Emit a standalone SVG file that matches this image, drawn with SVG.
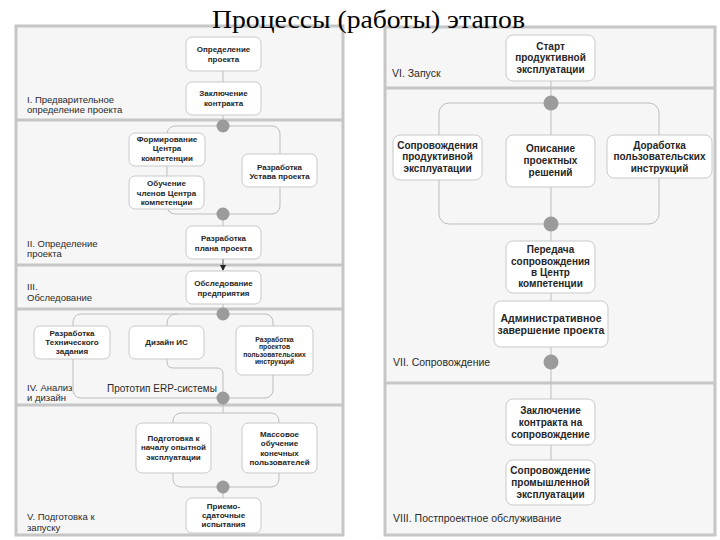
<svg xmlns="http://www.w3.org/2000/svg" width="720" height="540" viewBox="0 0 720 540">
<defs>
<style>
.lane{fill:#f6f6f6;stroke:#c6c6c6;stroke-width:3}
.sep{stroke:#c6c6c6;stroke-width:3}
.box{fill:#ffffff;stroke:#c9c9c9;stroke-width:1}
.ln{fill:none;stroke:#bdbdbd;stroke-width:1}
.dot{fill:#9b9b9b}
.t{font-family:"Liberation Sans",Arial,sans-serif;font-weight:bold;fill:#262626;text-anchor:middle}
.s{font-size:8px}
.xs{font-size:6.8px}
.m{font-size:10px}
.lab{font-family:"Liberation Sans",Arial,sans-serif;fill:#2a2a2a;font-size:9.5px}
.labr{font-family:"Liberation Sans",Arial,sans-serif;fill:#2a2a2a;font-size:10.5px}
.title{font-family:"Liberation Serif","Times New Roman",serif;font-size:26px;fill:#000}
</style>
<marker id="arr" markerWidth="6" markerHeight="6" refX="5" refY="3" orient="auto" markerUnits="userSpaceOnUse">
<path d="M0,0 L6,3 L0,6 Z" fill="#222"/>
</marker>
</defs>
<rect width="720" height="540" fill="#ffffff"/>

<g id="lanes">
<rect class="lane" x="16" y="26" width="327" height="509"/>
<line class="sep" x1="16" y1="120" x2="343" y2="120"/>
<line class="sep" x1="16" y1="265" x2="343" y2="265"/>
<line class="sep" x1="16" y1="309" x2="343" y2="309"/>
<line class="sep" x1="16" y1="405" x2="343" y2="405"/>
<rect class="lane" x="385" y="27" width="330" height="508"/>
<line class="sep" x1="385" y1="88" x2="715" y2="88"/>
<line class="sep" x1="385" y1="383" x2="715" y2="383"/>
</g>

<g id="lane-labels">
<text class="lab" x="27" y="103">I. Предварительное</text>
<text class="lab" x="27" y="113">определение проекта</text>
<text class="lab" x="27" y="247">II. Определение</text>
<text class="lab" x="27" y="257">проекта</text>
<text class="lab" x="27" y="290">III.</text>
<text class="lab" x="27" y="301">Обследование</text>
<text class="lab" x="27" y="391">IV. Анализ</text>
<text class="lab" x="27" y="401">и дизайн</text>
<text class="lab" x="27" y="520">V. Подготовка к</text>
<text class="lab" x="27" y="531">запуску</text>
<text class="labr" x="392" y="77">VI. Запуск</text>
<text class="labr" x="393" y="366">VII. Сопровождение</text>
<text class="labr" x="393" y="522">VIII. Постпроектное обслуживание</text>
<text class="lab" x="107" y="392" style="font-size:10px">Прототип ERP-системы</text>
</g>

<g id="connectors">
<line class="ln" x1="223" y1="71" x2="223" y2="82"/>
<line class="ln" x1="223" y1="115" x2="223" y2="126"/>
<rect class="ln" x="167" y="126" width="113" height="88" rx="8"/>
<line class="ln" x1="223" y1="214" x2="223" y2="226"/>
<line x1="223" y1="259" x2="223" y2="270" stroke="#555" stroke-width="1" marker-end="url(#arr)"/>
<line class="ln" x1="223" y1="304" x2="223" y2="314"/>
<rect class="ln" x="73" y="314" width="200" height="84" rx="8"/>
<path class="ln" d="M177,314 Q167,314 167,324 L167,362 Q167,368 173,368 L217,368 Q223,368 223,374 L223,398"/>
<line class="ln" x1="223" y1="398" x2="223" y2="413"/>
<rect class="ln" x="173" y="413" width="106" height="74" rx="8"/>
<line class="ln" x1="223" y1="487" x2="223" y2="498"/>
<line class="ln" x1="551" y1="81" x2="551" y2="505"/>
<rect class="ln" x="439" y="103" width="220" height="121" rx="10"/>
</g>

<g id="n-opredelenie"><rect class="box" x="186" y="37" width="75" height="34" rx="6"/>
<text class="t s" x="223.5" y="52">Определение</text><text class="t s" x="223.5" y="62">проекта</text></g>
<g id="n-zakl-kontrakta"><rect class="box" x="186" y="82" width="75" height="33" rx="6"/>
<text class="t s" x="223.5" y="96">Заключение</text><text class="t s" x="223.5" y="106">контракта</text></g>
<g id="n-formirovanie"><rect class="box" x="129" y="133" width="76" height="33" rx="6"/>
<text class="t s" x="167" y="142">Формирование</text><text class="t s" x="167" y="151">Центра</text><text class="t s" x="167" y="161">компетенции</text></g>
<g id="n-obuchenie"><rect class="box" x="129" y="176" width="75" height="33" rx="6"/>
<text class="t s" x="166.5" y="186">Обучение</text><text class="t s" x="166.5" y="196">членов Центра</text><text class="t s" x="166.5" y="205">компетенции</text></g>
<g id="n-ustav"><rect class="box" x="242" y="154" width="75" height="33" rx="6"/>
<text class="t s" x="279.5" y="170">Разработка</text><text class="t s" x="279.5" y="179">Устава проекта</text></g>
<g id="n-plan"><rect class="box" x="186" y="226" width="75" height="33" rx="6"/>
<text class="t s" x="223.5" y="241">Разработка</text><text class="t s" x="223.5" y="251">плана проекта</text></g>
<g id="n-obsledovanie"><rect class="box" x="186" y="271" width="75" height="33" rx="6"/>
<text class="t s" x="223.5" y="286">Обследование</text><text class="t s" x="223.5" y="296">предприятия</text></g>
<g id="n-tz"><rect class="box" x="34" y="326" width="76" height="33" rx="6"/>
<text class="t s" x="72" y="336">Разработка</text><text class="t s" x="72" y="345">Технического</text><text class="t s" x="72" y="354">задания</text></g>
<g id="n-dizain"><rect class="box" x="129" y="326" width="75" height="33" rx="6"/>
<text class="t s" x="166.5" y="345">Дизайн ИС</text></g>
<g id="n-instrukcii"><rect class="box" x="236" y="326" width="77" height="49" rx="6"/>
<text class="t xs" x="274.5" y="342">Разработка</text><text class="t xs" x="274.5" y="349">проектов</text><text class="t xs" x="274.5" y="357">пользовательских</text><text class="t xs" x="274.5" y="364">инструкций</text></g>
<g id="n-podgotovka"><rect class="box" x="136" y="423" width="75" height="50" rx="6"/>
<text class="t s" x="173.5" y="441">Подготовка к</text><text class="t s" x="173.5" y="450">началу опытной</text><text class="t s" x="173.5" y="460">эксплуатации</text></g>
<g id="n-massovoe"><rect class="box" x="242" y="423" width="75" height="50" rx="6"/>
<text class="t s" x="279.5" y="437">Массовое</text><text class="t s" x="279.5" y="446">обучение</text><text class="t s" x="279.5" y="456">конечных</text><text class="t s" x="279.5" y="465">пользователей</text></g>
<g id="n-priemo"><rect class="box" x="186" y="498" width="75" height="35" rx="6"/>
<text class="t s" x="223.5" y="509">Приемо-</text><text class="t s" x="223.5" y="518">сдаточные</text><text class="t s" x="223.5" y="527">испытания</text></g>

<g id="n-start"><rect class="box" x="506" y="35" width="89" height="46" rx="7"/>
<text class="t m" x="550.5" y="50">Старт</text><text class="t m" x="550.5" y="61">продуктивной</text><text class="t m" x="550.5" y="73">эксплуатации</text></g>
<g id="n-soprov-prod"><rect class="box" x="393" y="135" width="89" height="45" rx="7"/>
<text class="t m" x="437.5" y="149">Сопровождения</text><text class="t m" x="437.5" y="160">продуктивной</text><text class="t m" x="437.5" y="172">эксплуатации</text></g>
<g id="n-opisanie"><rect class="box" x="506" y="135" width="89" height="52" rx="7"/>
<text class="t m" x="550.5" y="152">Описание</text><text class="t m" x="550.5" y="164">проектных</text><text class="t m" x="550.5" y="176">решений</text></g>
<g id="n-dorabotka"><rect class="box" x="607" y="135" width="105" height="43" rx="7"/>
<text class="t m" x="659.5" y="149">Доработка</text><text class="t m" x="659.5" y="160">пользовательских</text><text class="t m" x="659.5" y="172">инструкций</text></g>
<g id="n-peredacha"><rect class="box" x="506" y="241" width="89" height="52" rx="7"/>
<text class="t m" x="550.5" y="253">Передача</text><text class="t m" x="550.5" y="265">сопровождения</text><text class="t m" x="550.5" y="276">в Центр</text><text class="t m" x="550.5" y="287">компетенции</text></g>
<g id="n-admin"><rect class="box" x="494" y="301" width="114" height="46" rx="7"/>
<text class="t m" x="551" y="322" style="font-size:10.5px">Административное</text><text class="t m" x="551" y="334" style="font-size:10.5px">завершение проекта</text></g>
<g id="n-zakl-soprov"><rect class="box" x="506" y="399" width="89" height="46" rx="7"/>
<text class="t m" x="550.5" y="414">Заключение</text><text class="t m" x="550.5" y="426">контракта на</text><text class="t m" x="550.5" y="438">сопровождение</text></g>
<g id="n-soprov-prom"><rect class="box" x="506" y="460" width="89" height="45" rx="7"/>
<text class="t m" x="550.5" y="474">Сопровождение</text><text class="t m" x="550.5" y="486">промышленной</text><text class="t m" x="550.5" y="498">эксплуатации</text></g>

<g id="joins">
<circle class="dot" cx="223" cy="126" r="6.5"/>
<circle class="dot" cx="223" cy="214" r="6.5"/>
<circle class="dot" cx="223" cy="314" r="6.5"/>
<circle class="dot" cx="223" cy="398" r="6.5"/>
<circle class="dot" cx="223" cy="487" r="6.5"/>
<circle class="dot" cx="551" cy="103" r="7.5"/>
<circle class="dot" cx="551" cy="224" r="7.5"/>
<circle class="dot" cx="551" cy="362" r="7.5"/>
</g>

<text class="title" x="212" y="28" textLength="313" lengthAdjust="spacingAndGlyphs">Процессы (работы) этапов</text>
</svg>
